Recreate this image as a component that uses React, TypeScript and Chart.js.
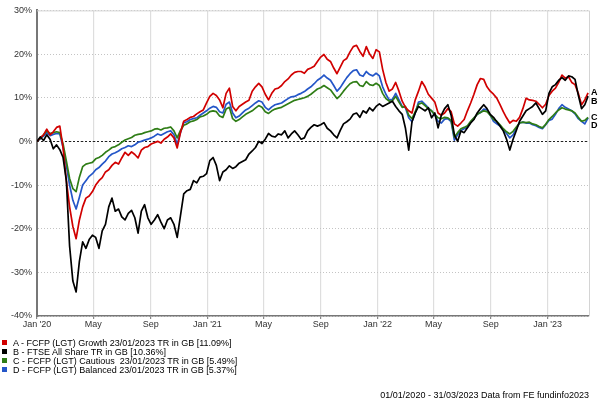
import React, { useEffect, useRef } from "react";
import { Chart, registerables } from "chart.js";

Chart.register(...registerables);

const FONT = '"Liberation Sans", Arial, Helvetica, sans-serif';

// Weekly observations from 01/01/2020 (values in % total return)
const seriesA_Growth = [
  0, 0.8, 1.5, 2.8, 1.5, 2.2, 3.2, 3.5, -1.5, -9,
  -15, -19.5, -22.3, -18, -15, -13, -12.5, -11.5, -10, -9,
  -8.3, -7, -6.5, -5.5, -4.8, -5.2, -3.8, -2.5, -3.2, -2.4,
  -3.0, -3.8, -2.0, -1.4, -1.2, -0.6, -0.3, 0.0, -0.4, 0.5,
  1.0, 1.7, 0.8, -1.5, 2.0, 4.6, 5.0, 5.5, 5.7, 6.3,
  6.8, 7.2, 8.8, 10.3, 11.0, 10.5, 9.5, 7.7, 11, 12.2,
  8, 7, 8.0, 8.5, 9.0, 9.4, 11.5, 12.5, 13.3, 12.5,
  10.8, 9.5, 11, 12, 12.2, 12.8, 13.7, 14.3, 15.2, 15.8,
  16.0, 16.0, 15.6, 16.5, 16.8, 17.2, 18.3, 19.3, 19.9, 18.8,
  18.3, 16.8, 15.5, 17, 18.5, 19.0, 20.5, 21.7, 22.0, 20.6,
  19.5, 21.7, 20.0, 19.0, 21.0, 20.5, 16.5, 13.5, 11.5, 12.0,
  13.5, 11.5, 9.2, 7.8, 7.0, 6.5, 9.5, 11.5, 13.7, 12.5,
  10.8, 9.9, 9.0, 6.5, 6.0, 6.5, 7.5, 6.8, 4.0, 3.5,
  4.2, 5.0, 7.0, 8.8, 10.8, 13.0, 14.4, 14.2, 12.5, 11.5,
  10.8, 9.9, 8.4, 6.8, 5.4, 4.2, 4.8, 4.6, 5.5, 7.5,
  9.9, 9.5, 9.4, 9.2, 8.5, 7.7, 8.5, 10.5, 11.5, 12.2,
  13.5, 15.2, 14.5, 14.8, 13.5, 13.0, 11.0, 8.4, 9.5, 11.09,
];

const seriesB_FTSE = [
  0, 1.0, 0.2, 1.5, 0.5, -1.7, -0.8, -1.9, -3.7, -9,
  -24, -32, -34.5, -27.5, -23, -24.5, -22.5, -21.5, -22, -24.5,
  -20.5, -19, -15, -13, -16, -15.5, -17.3, -18, -16.5, -15.8,
  -17.5, -21, -16, -14.5, -17.5, -19, -18, -16.8, -18.5, -20,
  -18, -17.5, -19, -22, -17, -12, -11.3, -11, -9, -9.5,
  -8.2, -8, -7.4, -4.4, -3.7, -5.5, -9, -7, -6.5, -5.6,
  -6.2, -5.8, -5.0, -4.6, -4.2, -2.9, -2.2, -1.4, 0.0, -0.5,
  0.5, 1.8, 1.2, 1.0, 1.7, 1.5, 2.4, 0.8, 1.7, 2.4,
  1.5, 0.5, 0.8, 2.4, 3.2, 3.8, 3.5, 3.8, 4.3, 3.0,
  2.4, 1.5, 0.8, 2.5, 4.0, 4.5, 5.1, 6.2, 6.5, 5.5,
  7.0, 6.5, 7.7, 7.0, 8.0, 8.6, 8.0, 8.4, 8.8, 9.2,
  8.0, 7.0, 6.2, 3.0, -2.0, 4.5, 6.5, 8.0, 7.5, 7.0,
  7.7, 5.4, 6.5, 3.1, 6.0, 7.5, 8.4, 6.0, 1.5, 0.0,
  2.4, 2.0, 3.1, 4.2, 5.0, 6.5, 7.5, 8.4, 7.5, 6.2,
  5.5, 4.5, 3.5, 2.4, 0.5, -2.0, 0.5, 2.5, 4.6, 5.8,
  7.0, 7.5, 8.0, 8.8, 7.5, 6.2, 7.0, 11.0, 12.5, 13.0,
  14.0, 14.6, 14.0, 15.0, 14.8, 14.2, 10.6, 7.5, 8.4, 10.36,
];

const seriesC_Cautious = [
  0, 0.7, 1.5, 2.4, 1.8, 2.0, 2.2, 2.0, -0.6, -4.5,
  -8.5, -10.8, -11.5, -8.2, -5.8, -5.2, -5.0, -4.8, -4.0, -3.7,
  -3.2, -2.5, -2.0, -1.4, -1.2, -0.8, -0.2, 0.3, 0.6, 0.9,
  1.4, 1.6, 1.7, 2.0, 2.2, 2.4, 2.8, 2.9, 2.6, 3.0,
  3.1, 3.3, 2.4, 0.8, 2.5, 3.7, 4.0, 4.5, 4.7, 5.0,
  5.6, 5.8, 6.2, 6.8, 7.0, 6.8, 5.8, 5.5, 7.4, 7.8,
  5.2, 4.6, 5.0, 5.6, 6.2, 6.6, 7.0, 7.6, 8.2, 7.8,
  6.8, 6.4, 7.0, 7.4, 7.6, 7.8, 8.2, 8.6, 9.0, 9.4,
  9.6, 9.8, 10.0, 10.3, 10.8, 11.4, 12.0, 12.3, 12.8, 12.3,
  11.8, 10.8, 9.8, 10.5, 11.5, 12.4, 13.2, 13.6, 13.7, 12.8,
  12.6, 13.7, 13.0, 12.8, 13.3, 12.8, 11.0, 9.8, 9.2, 9.3,
  10.3, 9.0, 7.8, 8.0, 6.0, 5.2, 6.8, 8.5, 8.8, 8.2,
  7.5, 7.0, 6.2, 5.4, 5.2, 5.5, 5.4, 4.8, 1.0, 2.0,
  2.9, 3.2, 3.6, 4.6, 5.4, 6.2, 6.6, 7.0, 6.8, 6.0,
  5.0, 4.6, 3.8, 2.9, 2.2, 1.7, 2.3, 3.3, 4.2, 4.4,
  4.3, 4.4, 4.0, 3.8, 3.4, 3.1, 3.9, 5.0, 5.7, 6.5,
  7.2, 7.7, 7.4, 7.2, 7.0, 6.5, 5.5, 4.6, 4.8, 5.49,
];

const seriesD_Balanced = [
  0, 0.6, 1.2, 2.0, 1.3, 1.6, 1.8, 1.7, -1.4, -5.5,
  -10, -13.5, -15.5, -12.8, -10, -9, -8, -7.4, -6.5, -6,
  -5.2, -4.5, -3.5, -2.9, -2.6, -2.2, -1.7, -1.4, -1.0, -1.2,
  -0.8, -0.2, 0.0, 0.3, 0.5, 0.8, 1.2, 1.7, 1.4, 1.8,
  2.2, 2.4, 1.5, -0.6, 2.0, 4.3, 4.5, 5.0, 5.2, 5.4,
  6.0, 6.5, 7.0, 7.6, 8.0, 7.8, 6.8, 6.5, 8.5, 9.0,
  6.5, 5.4, 5.8, 6.5, 7.2, 7.6, 8.2, 8.8, 9.3, 9.0,
  7.8, 7.2, 7.9, 8.4, 8.6, 8.8, 9.3, 9.8, 10.2, 10.3,
  10.7, 11.0, 11.4, 12.0, 12.5, 13.2, 14.0, 14.5, 15.2, 14.5,
  14.0, 12.8, 11.5, 12.3, 13.5, 14.6, 15.5, 16.2, 16.4, 15.2,
  14.9, 16.0, 15.3, 15.0, 15.6, 15.0, 12.5, 10.8, 9.5, 9.6,
  11.0, 9.5, 8.0, 7.7, 5.4, 4.5, 6.5, 9.0, 9.2, 8.5,
  7.7, 7.0, 6.0, 4.6, 4.2, 5.1, 5.2, 4.5, 0.3, 1.5,
  2.5, 2.9, 3.2, 4.4, 5.3, 6.2, 6.6, 7.4, 7.2, 6.0,
  4.6, 4.0, 3.5, 2.6, 1.8, 0.8, 1.5, 3.0, 4.2, 4.4,
  4.2, 4.2, 3.8, 3.6, 3.2, 2.9, 3.8, 4.8, 5.1, 6.2,
  7.5, 8.4, 7.8, 7.4, 7.0, 6.3, 5.2, 4.6, 4.0, 5.37,
];

// Day offsets (from 01/01/2020) of the weekly observations
const weekDays = seriesA_Growth.map((_, i) => i * 7);

// X axis: day offsets of month ticks, and their labels
const tickDays = [0, 121, 244, 366, 486, 609, 731, 851, 974, 1096];
const tickLabels = ["Jan '20", "May", "Sep", "Jan '21", "May", "Sep", "Jan '22", "May", "Sep", "Jan '23"];
const xMaxDay = 1185;

const yMin = -40;
const yMax = 30;
const yStep = 10;

const legendLabels = [
  "A - FCFP (LGT) Growth 23/01/2023 TR in GB [11.09%]",
  "B - FTSE All Share TR in GB [10.36%]",
  "C - FCFP (LGT) Cautious  23/01/2023 TR in GB [5.49%]",
  "D - FCFP (LGT) Balanced 23/01/2023 TR in GB [5.37%]",
];
const endLetters = ["A", "B", "C", "D"];
const colors = ["#d10000", "#000000", "#2f7d16", "#2456c8"];
const footerText = "01/01/2020 - 31/03/2023 Data from FE fundinfo2023";

export default function App() {
  const canvasRef = useRef<HTMLCanvasElement | null>(null);

  useEffect(() => {
    const canvas = canvasRef.current;
    if (!canvas) return;

    const seriesList = [seriesA_Growth, seriesB_FTSE, seriesC_Cautious, seriesD_Balanced];

    const framePlugin = {
      id: "framePlugin",
      beforeDatasetsDraw(chart: any) {
        const { ctx, chartArea } = chart;
        const y = chart.scales.y;
        ctx.save();
        ctx.strokeStyle = "#d4d4d4";
        ctx.lineWidth = 1;
        ctx.beginPath();
        ctx.moveTo(chartArea.left, chartArea.top + 0.5);
        ctx.lineTo(chartArea.right + 0.5, chartArea.top + 0.5);
        ctx.lineTo(chartArea.right + 0.5, chartArea.bottom);
        ctx.stroke();
        const y0 = Math.round(y.getPixelForValue(0)) + 0.5;
        ctx.strokeStyle = "#222222";
        ctx.setLineDash([2, 2]);
        ctx.beginPath();
        ctx.moveTo(chartArea.left, y0);
        ctx.lineTo(chartArea.right, y0);
        ctx.stroke();
        ctx.restore();
      },
      afterDatasetsDraw(chart: any) {
        const { ctx, chartArea } = chart;
        const y = chart.scales.y;
        const items = seriesList.map((s, i) => ({
          letter: endLetters[i],
          py: y.getPixelForValue(s[s.length - 1]),
        }));
        items.sort((a, b) => a.py - b.py);
        const gap = 8.5;
        for (let i = 1; i < items.length; i++) {
          if (items[i].py - items[i - 1].py < gap) items[i].py = items[i - 1].py + gap;
        }
        ctx.save();
        ctx.fillStyle = "#000";
        ctx.font = `bold 9px ${FONT}`;
        ctx.textAlign = "left";
        ctx.textBaseline = "middle";
        items.forEach((it) => ctx.fillText(it.letter, chartArea.right + 2, it.py));
        ctx.restore();
      },
    };

    const chart = new Chart(canvas, {
      type: "line",
      data: {
        labels: weekDays,
        datasets: [
          { label: legendLabels[1], data: seriesB_FTSE, borderColor: colors[1] },
          { label: legendLabels[0], data: seriesA_Growth, borderColor: colors[0] },
          { label: legendLabels[2], data: seriesC_Cautious, borderColor: colors[2] },
          { label: legendLabels[3], data: seriesD_Balanced, borderColor: colors[3] },
        ].map((d) => ({
          ...d,
          borderWidth: 1.7,
          pointRadius: 0,
          tension: 0,
          fill: false,
          borderJoinStyle: "round" as const,
        })),
      },
      options: {
        responsive: false,
        animation: false,
        events: [],
        layout: { padding: { left: 0, top: 8, right: 13, bottom: 66 } },
        plugins: {
          legend: { display: false },
          tooltip: { enabled: false },
        },
        scales: {
          x: {
            type: "linear",
            min: 0,
            max: xMaxDay,
            afterFit: (s: any) => {
              s.height = 20;
            },
            afterBuildTicks: (s: any) => {
              s.ticks = tickDays.map((v) => ({ value: v }));
            },
            ticks: {
              autoSkip: false,
              maxRotation: 0,
              minRotation: 0,
              padding: 0,
              color: "#333",
              font: { family: FONT, size: 9 },
              callback: (_v: any, i: number) => tickLabels[i],
            },
            grid: {
              color: "#dedede",
              lineWidth: 1.2,
              drawTicks: true,
              tickLength: 3,
              tickColor: "#888",
            },
            border: { display: true, color: "#777", width: 1.5 },
          },
          y: {
            min: yMin,
            max: yMax,
            afterFit: (s: any) => {
              s.width = 37;
            },
            ticks: {
              stepSize: yStep,
              padding: 5,
              color: "#333",
              font: { family: FONT, size: 9 },
              callback: (v: any) => `${v}%`,
            },
            grid: {
              color: "#c4c4c4",
              lineWidth: 1,
              drawTicks: false,
            },
            border: { display: true, color: "#777", width: 2, dash: [1, 2] },
          },
        },
      },
      plugins: [framePlugin],
    });

    return () => chart.destroy();
  }, []);

  return (
    <div
      style={{
        position: "absolute",
        left: 0,
        top: 0,
        width: 602,
        height: 402,
        background: "#fff",
        overflow: "hidden",
        fontFamily: FONT,
      }}
    >
      <canvas ref={canvasRef} width={602} height={402} style={{ position: "absolute", left: 0, top: 0 }} />
      <div style={{ position: "absolute", left: 2, top: 339 }}>
        {legendLabels.map((label, i) => (
          <div key={label} style={{ position: "relative", height: 9, lineHeight: "9px", fontSize: 9, color: "#000", whiteSpace: "pre" }}>
            <span
              style={{
                position: "absolute",
                left: 0,
                top: 1,
                width: 5,
                height: 5,
                background: colors[i],
              }}
            />
            <span style={{ position: "absolute", left: 11, top: 0 }}>{label}</span>
          </div>
        ))}
      </div>
      <div
        style={{
          position: "absolute",
          right: 13,
          top: 391,
          fontSize: 9,
          lineHeight: "9px",
          color: "#000",
          whiteSpace: "pre",
        }}
      >
        {footerText}
      </div>
    </div>
  );
}
